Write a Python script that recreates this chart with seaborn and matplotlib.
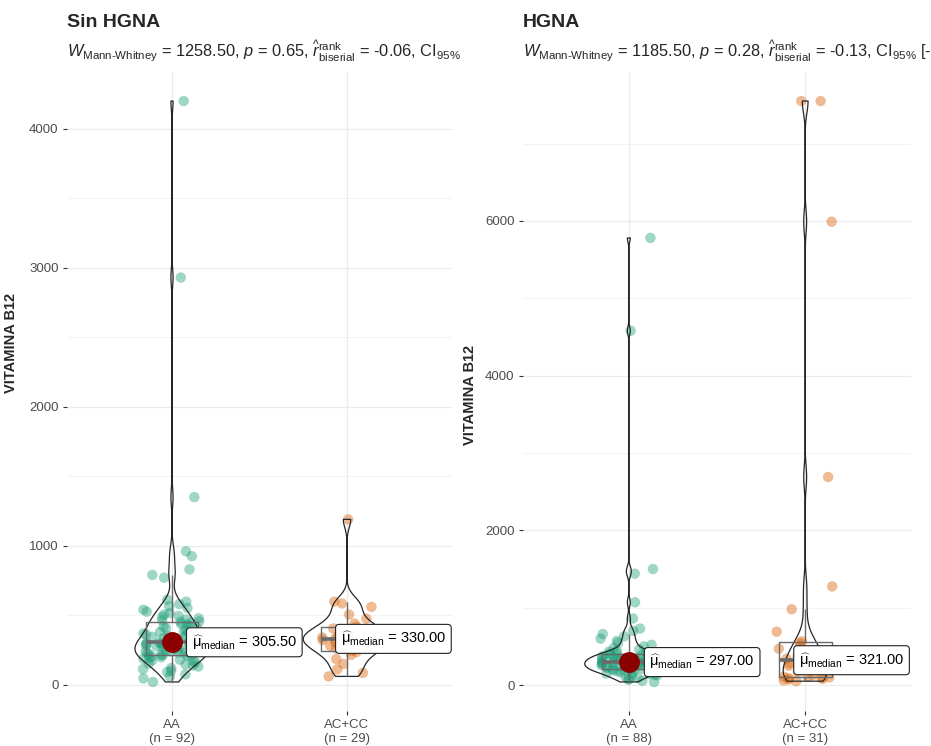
import numpy as np
import pandas as pd
import matplotlib
matplotlib.use("Agg")
import matplotlib.pyplot as plt
import seaborn as sns

# ---- data -------------------------------------------------------------
groups = ["AA", "AC+CC"]

sin_hgna_aa = [
    20, 45, 60, 75, 92, 100, 112, 120, 131, 138, 146, 152, 161, 168, 175, 180,
    186, 193, 198, 203, 207, 210, 213,
    216, 220, 225, 228, 232, 237, 240, 244, 249, 252, 256, 261, 264, 268, 272,
    276, 281, 284, 288, 292, 296, 300, 303,
    308, 314, 321, 326, 332, 338, 345, 350, 356, 362, 369, 374, 380, 387, 394,
    401, 408, 416, 422, 430, 438, 446, 454,
    456, 463, 470, 478, 487, 495, 505, 516, 526, 540, 552, 566, 580, 598, 612,
    770, 790, 830, 925, 960, 1350, 2930, 4200,
]
sin_hgna_accc = [
    60, 85, 110, 150, 185, 215, 235, 245, 262, 280, 295, 305, 315, 322, 330,
    340, 352, 365, 378, 390, 405, 418, 440, 475, 505, 560, 585, 598, 1190,
]
hgna_aa = [
    40, 55, 68, 80, 92, 104, 115, 125, 134, 142, 150, 158, 165, 172, 178, 184,
    189, 194, 198, 201, 203, 205,
    208, 212, 216, 220, 225, 230, 235, 240, 245, 250, 255, 260, 265, 270, 275,
    280, 284, 287, 290, 292, 294, 295,
    299, 304, 309, 314, 319, 324, 329, 334, 339, 344, 349, 354, 359, 364, 369,
    374, 379, 384, 389, 393, 397, 399,
    402, 410, 420, 432, 445, 460, 478, 500, 520, 545, 570, 600, 630, 660, 700,
    730, 860, 1070, 1440, 1500, 4580, 5780,
]
hgna_accc = [
    50, 60, 72, 80, 88, 95, 100, 104, 108, 130, 170, 210, 250, 280, 300, 321,
    340, 370, 400, 430, 470, 510, 545, 565, 690, 980, 1275, 2690, 5990, 7550,
    7550,
]

panel_titles = ["Sin HGNA", "HGNA"]
w_stat = ["1258.50", "1185.50"]
p_val = ["0.65", "0.28"]
r_rank = ["-0.06", "-0.13"]
ci_95 = ["", " [-0.35, 0.10]"]
y_ticks = [[0, 1000, 2000, 3000, 4000], [0, 2000, 4000, 6000]]

palette = ["#1B9E77", "#D95F02"]


def nrd0_factor(kde):
    """Silverman's rule of thumb (R's bw.nrd0) expressed as a scipy factor."""
    x = np.asarray(kde.dataset).ravel()
    sd = np.std(x, ddof=1)
    q75, q25 = np.percentile(x, [75, 25])
    lo = min(sd, (q75 - q25) / 1.34)
    bw = 0.9 * lo * len(x) ** (-0.2)
    return bw / sd


# ---- style ------------------------------------------------------------
sns.set_theme(style="white")
plt.rcParams["font.family"] = ["Liberation Sans", "DejaVu Sans"]
plt.rcParams["mathtext.fontset"] = "custom"
plt.rcParams["mathtext.rm"] = "Liberation Sans"
plt.rcParams["mathtext.it"] = "Liberation Sans:italic"
plt.rcParams["mathtext.bf"] = "Liberation Sans:bold"

W, H = 931, 746
fig = plt.figure(figsize=(W / 100, H / 100), dpi=100)

# axes placement in pixels: (left, right)
ax_px = [(67, 452), (523, 911)]
top_px, bot_px = 72, 711
ylab_px = [(18, 343), (477, 395)]
label_dx = [(0.112, -0.036), (0.117, -0.036)]

datasets = [(sin_hgna_aa, sin_hgna_accc), (hgna_aa, hgna_accc)]

np.random.seed(11)
for k, (aa, accc) in enumerate(datasets):
    l, r = ax_px[k]
    ax = fig.add_axes([l / W, (H - bot_px) / H, (r - l) / W, (bot_px - top_px) / H])
    df = pd.DataFrame({
        "group": ["AA"] * len(aa) + ["AC+CC"] * len(accc),
        "value": list(aa) + list(accc),
    })
    counts = df["group"].value_counts()

    sns.stripplot(data=df, x="group", y="value", hue="group", order=groups,
                  hue_order=groups, palette=palette, jitter=0.17, size=7.5,
                  alpha=0.42, linewidth=0, legend=False, ax=ax, zorder=1)
    sns.boxplot(data=df, x="group", y="value", order=groups, width=0.3,
                fill=False, color="#6A6A6A", linewidth=1.0, showfliers=False,
                showcaps=False, medianprops=dict(linewidth=2.6, color="#6A6A6A"),
                ax=ax)
    sns.violinplot(data=df, x="group", y="value", order=groups, width=0.5,
                   cut=0, density_norm="area", inner=None, fill=False,
                   bw_method=nrd0_factor, gridsize=512,
                   color="#262626", linewidth=0.9, ax=ax)
    sns.pointplot(data=df[df["group"] == "AA"], x="group", y="value",
                  order=groups, estimator="median", errorbar=None,
                  color="#8B0000", markers="o", markersize=13,
                  linestyle="none", ax=ax, zorder=5)

    for i, g in enumerate(groups):
        med = float(np.median(df.loc[df["group"] == g, "value"]))
        ax.annotate(
            "$\\widehat{\\mathrm{\\mu}}_{\\text{median}}$" + f" = {med:.2f}",
            xy=(i, med), xytext=(i + label_dx[k][i], med),
            ha="left", va="center", fontsize=10.5, color="black",
            bbox=dict(boxstyle="round,pad=0.35,rounding_size=0.25",
                      fc="white", ec="#222222", lw=0.8),
            zorder=10,
        )

    vmin, vmax = df["value"].min(), df["value"].max()
    pad = (vmax - vmin) * 0.05
    ax.set_ylim(vmin - pad, vmax + pad)
    ax.set_xlim(-0.6, 1.6)
    ax.set_yticks(y_ticks[k])
    step = y_ticks[k][1] - y_ticks[k][0]
    ax.set_yticks(np.arange(step / 2, vmax + pad, step), minor=True)
    ax.set_xticks(range(len(groups)))
    ax.set_xticklabels([f"{g}\n(n = {counts[g]})" for g in groups])

    ax.grid(True, which="major", color="#EBEBEB", linewidth=0.9)
    ax.grid(True, which="minor", axis="y", color="#F3F3F3", linewidth=0.7)
    ax.set_axisbelow(True)
    for s in ax.spines.values():
        s.set_visible(False)
    ax.tick_params(axis="both", which="major", length=3, width=0.8,
                   color="#333333", labelsize=9.5, labelcolor="#4D4D4D",
                   left=True, bottom=True, pad=3)
    ax.tick_params(axis="y", which="minor", length=0)

    ax.set_xlabel("")
    ax.set_ylabel("VITAMINA B12", fontsize=10.5, fontweight="bold")
    lx, ly = ylab_px[k]
    ax.yaxis.set_label_coords((lx - l) / (r - l), (bot_px - ly) / (bot_px - top_px))

    # titles
    fig.text(l / W, (H - 27) / H, panel_titles[k], fontsize=14,
             fontweight="bold", ha="left", va="baseline")
    sub = (
        "$W_{\\text{Mann-Whitney}}$" + f" = {w_stat[k]}, " + "$p$" +
        f" = {p_val[k]}, " + "$\\widehat{r}_{\\text{biserial}}^{\\text{rank}}$" +
        f" = {r_rank[k]}, CI" + "$_{95\\%}$" + ci_95[k]
    )
    fig.text(l / W, (H - 57) / H, sub, fontsize=11.8, ha="left",
             va="baseline")

fig.savefig("out.png", dpi=100, facecolor="white")
